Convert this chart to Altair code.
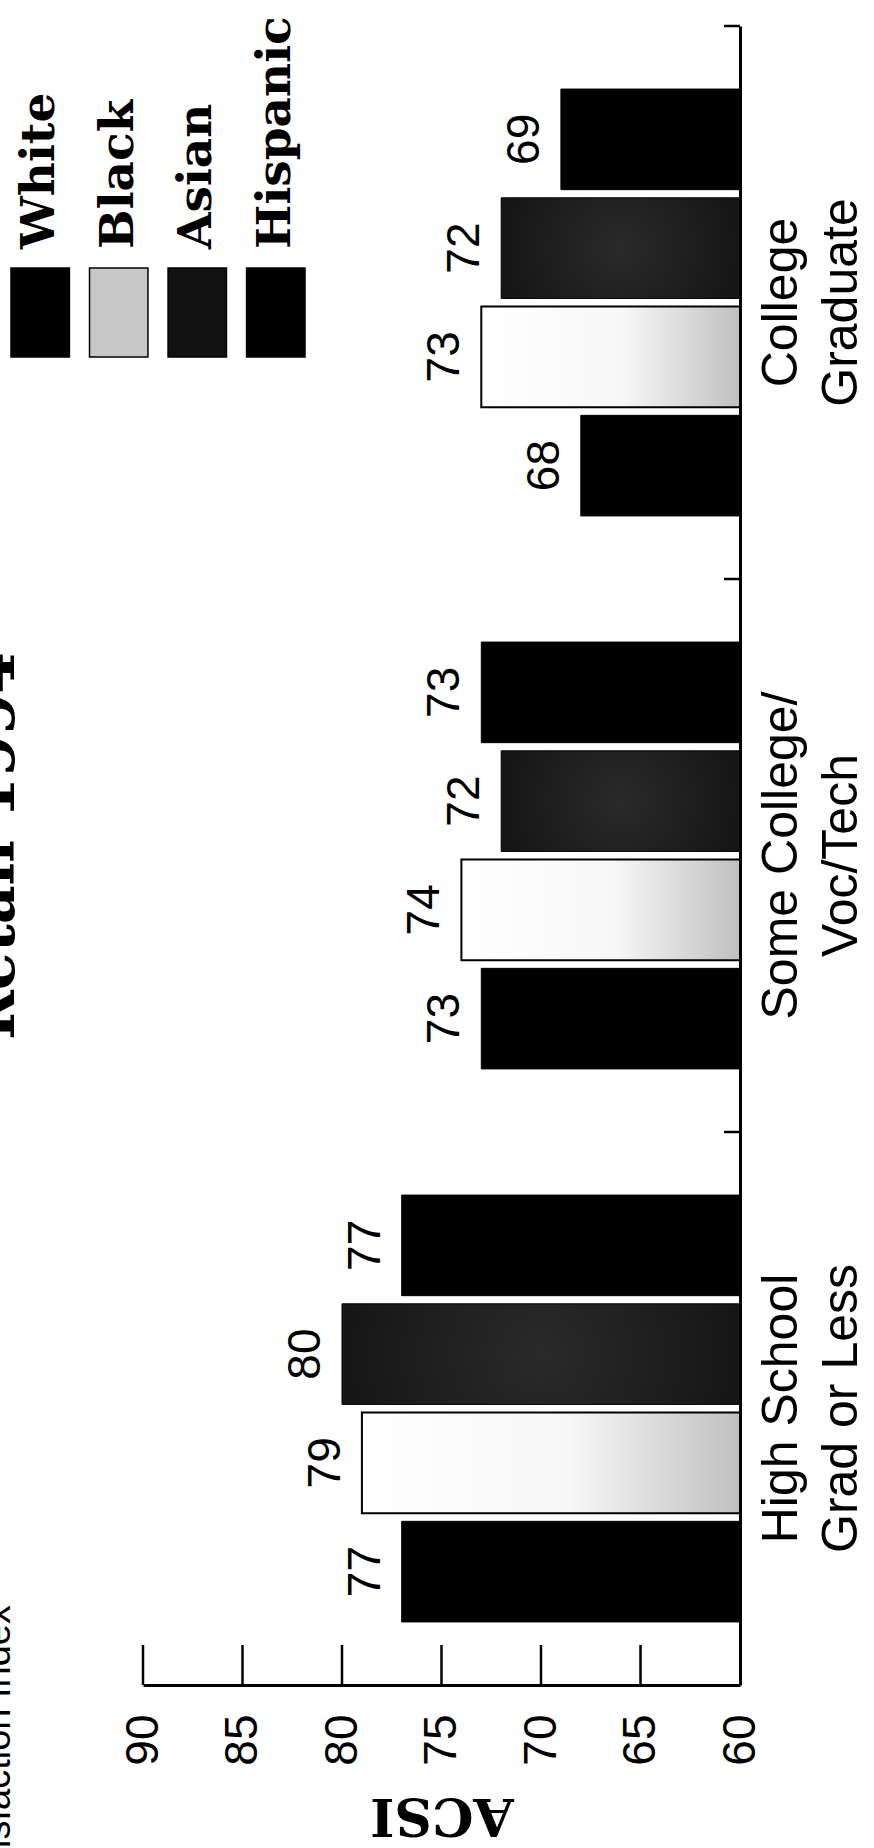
import altair as alt
import pandas as pd

# Education groups (top to bottom), "|" marks the line break in the axis label
groups = ["College|Graduate", "Some College/|Voc/Tech", "High School|Grad or Less"]
races = ["White", "Black", "Asian", "Hispanic"]

# ACSI scores per education group, in the order of `races`
college_grad = [68, 73, 72, 69]
some_college = [73, 74, 72, 73]
high_school = [77, 79, 80, 77]

value_ticks = [60, 65, 70, 75, 80, 85, 90]

rows = []
for g, vals in zip(groups, [college_grad, some_college, high_school]):
    for r, v in zip(races, vals):
        rows.append({"group": g, "race": r, "acsi": v})
df = pd.DataFrame(rows)

W, H = 597, 1659
SANS = "Liberation Sans"
SERIF = "DejaVu Serif"

x_axis = alt.Axis(
    values=value_ticks, orient="bottom", ticks=False, tickSize=0, grid=False,
    domainColor="black", domainWidth=3, labelAngle=270, labelAlign="right",
    labelBaseline="middle", labelFont=SANS, labelFontSize=46, labelColor="black",
    labelPadding=29, labelFlush=False, labelOverlap=False,
    title="ACSI", titleFont=SERIF, titleFontWeight="bold", titleFontSize=52,
    titleAngle=180, titleBaseline="alphabetic", titleAlign="center", titleY=113,
    titleColor="black",
)
y_axis = alt.Axis(
    orient="right", ticks=False, tickSize=0, grid=False, domainColor="black",
    domainWidth=3, labelExpr="split(datum.label, '|')", labelAngle=270,
    labelAlign="center", labelBaseline="top", labelFont=SANS, labelFontSize=50,
    labelLineHeight=60, labelPadding=16, labelColor="black", labelLimit=0,
    title=None,
)

x_scale = alt.Scale(domain=[60, 90], reverse=True, nice=False, zero=False)
y_scale = alt.Scale(domain=groups, paddingInner=0, paddingOuter=0)
off_scale = alt.Scale(domain=["Hispanic", "Asian", "Black", "White"],
                      paddingInner=0.075, paddingOuter=0.58)

x_enc = alt.X("acsi:Q", scale=x_scale, axis=x_axis)
y_enc = alt.Y("group:N", scale=y_scale, axis=y_axis)
off_enc = alt.YOffset("race:N", scale=off_scale)

base = alt.Chart(df).encode(x=x_enc, y=y_enc, yOffset=off_enc)

solid_bars = base.transform_filter(
    (alt.datum.race == "White") | (alt.datum.race == "Hispanic")
).mark_bar(fill="#000000", stroke="#000000", strokeWidth=1).encode(x2=alt.datum(60))

black_fill = {
    "gradient": "linear", "x1": 0, "x2": 1, "y1": 0, "y2": 0,
    "stops": [
        {"offset": 0, "color": "#ffffff"},
        {"offset": 0.55, "color": "#f7f7f7"},
        {"offset": 1, "color": "#c0c0c0"},
    ],
}
black_bars = base.transform_filter(alt.datum.race == "Black").mark_bar(
    fill=black_fill, stroke="#000000", strokeWidth=2
).encode(x2=alt.datum(60))

asian_fill = {
    "gradient": "radial", "x1": 0.5, "y1": 0.5, "x2": 0.5, "y2": 0.5,
    "r1": 0, "r2": 0.75,
    "stops": [
        {"offset": 0, "color": "#2a2a2a"},
        {"offset": 1, "color": "#0c0c0c"},
    ],
}
asian_bars = base.transform_filter(alt.datum.race == "Asian").mark_bar(
    fill=asian_fill, stroke="#000000", strokeWidth=1
).encode(x2=alt.datum(60))

value_labels = base.mark_text(
    angle=270, align="center", baseline="alphabetic", dy=-22,
    font=SANS, fontSize=46, color="black",
).encode(text="acsi:Q")

# inward tick marks on the value axis
tick_df = pd.DataFrame({"acsi": value_ticks[1:]})
value_tick_marks = alt.Chart(tick_df).mark_rule(color="black", strokeWidth=2.5).encode(
    x=x_enc, y=alt.value(H - 40), y2=alt.value(H)
)

# inward tick marks at the group boundaries
group_df = pd.DataFrame({"group": groups})
group_tick_marks = alt.Chart(group_df).mark_rule(color="black", strokeWidth=2.5).encode(
    y=alt.Y("group:N", scale=y_scale, axis=y_axis, bandPosition=0),
    x=alt.value(W - 16), x2=alt.value(W),
)

# headline and source line, set along the left edge of the page
title_df = pd.DataFrame({"t": ["Retail 1994"]})
headline = alt.Chart(title_df).mark_text(
    angle=270, align="center", baseline="alphabetic", font=SERIF, fontWeight="bold",
    fontSize=60, color="black",
).encode(text="t:N", x=alt.value(-129), y=alt.value(820))

source_df = pd.DataFrame({"t": ["American Customer Satisfaction Index"]})
source_note = alt.Chart(source_df).mark_text(
    angle=270, align="right", baseline="alphabetic", font=SANS, fontSize=38, color="black"
).encode(text="t:N", x=alt.value(-133), y=alt.value(1579))

main = alt.layer(
    solid_bars, black_bars, asian_bars, value_labels,
    value_tick_marks, group_tick_marks, headline, source_note,
)

# legend drawn as its own layer: swatches with rotated labels above them
leg_df = pd.DataFrame({"race": races})
leg_x = alt.X("race:N", scale=alt.Scale(domain=races, range=[-132, 162],
                                        paddingInner=0.256, paddingOuter=0), axis=None)
leg_swatch = alt.Chart(leg_df).mark_rect(stroke="black", strokeWidth=1.5).encode(
    x=leg_x, y=alt.value(242), y2=alt.value(331),
    fill=alt.Fill("race:N", scale=alt.Scale(domain=races,
                  range=["#000000", "#c8c8c8", "#111111", "#000000"]), legend=None),
)
leg_text = alt.Chart(leg_df).mark_text(
    angle=270, align="left", baseline="middle", font=SERIF, fontWeight="bold",
    fontSize=47, color="black",
).encode(x=leg_x, y=alt.value(223), text="race:N")
legend = alt.layer(leg_swatch, leg_text)

chart = alt.layer(main, legend).resolve_scale(x="independent").properties(
    width=W, height=H,
    padding={"left": 143, "top": 26, "right": 134, "bottom": 163},
    autosize=alt.AutoSizeParams(type="none"),
    background="white",
).configure_view(stroke=None)

chart.save("out.html", embed_options={"renderer": "svg", "actions": False})
